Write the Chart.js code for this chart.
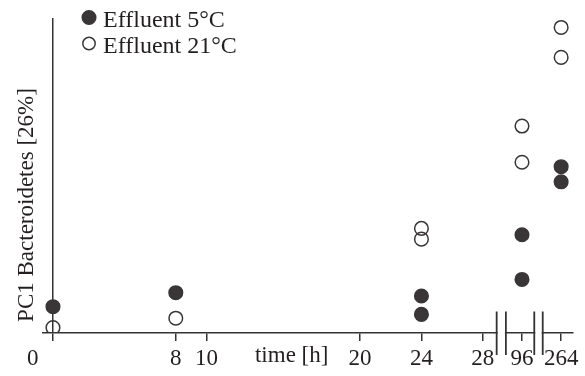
<!DOCTYPE html>
<html>
<head>
<meta charset="utf-8">
<script src="https://cdn.jsdelivr.net/npm/chart.js@4.4.0/dist/chart.umd.min.js"></script>
<style>
  html, body { margin: 0; padding: 0; background: #fff; }
</style>
</head>
<body>
<canvas id="chart" width="585" height="376"></canvas>
<script>
// PC1 scores over time for the two effluent temperatures
const sampleTimes5 = [0, 8, 24, 24, 96, 96, 264, 264];
const effluent5 = [8.35, 12.8, 11.75, 5.9, 31.2, 17.0, 52.8, 48.0];
const sampleTimes21 = [0, 8, 24, 24, 96, 96, 264, 264];
const effluent21 = [1.7, 4.7, 33.2, 29.8, 65.7, 54.2, 97.0, 87.5];
const tickHours = [0, 8, 10, 20, 24, 28, 96, 264];
const tickLabels = ['0', '8', '10', '20', '24', '28', '96', '264'];
const seriesNames = ['Effluent 5°C', 'Effluent 21°C'];
const axisTitleX = 'time [h]';
const axisTitleY = 'PC1 Bacteroidetes [26%]';

// Broken time axis: 0–28 h is linear, 96 h and 264 h sit on short compressed segments
const brokenAt = { 96: 30.55, 264: 33.1 };
function axisPos(h) { return h <= 28 ? h : brokenAt[h]; }
const axisBreaks = [[28.9, 29.5], [31.35, 31.9]];

const ink = '#333';
const dot = '#3a3637';
const textInk = '#231f20';
const serif = '"Liberation Serif", "Times New Roman", serif';

function toPoints(times, values) {
  return times.map((t, i) => ({ x: axisPos(t), y: values[i] }));
}

const decor = {
  id: 'decor',
  afterDraw(chart) {
    const c = chart.ctx;
    const xs = chart.scales.x;
    const area = chart.chartArea;
    c.save();

    // axis breaks: cut the baseline and draw the double bars
    axisBreaks.forEach(([a, b]) => {
      const x1 = xs.getPixelForValue(a);
      const x2 = xs.getPixelForValue(b);
      c.fillStyle = '#fff';
      c.fillRect(x1 + 1, area.bottom - 2, x2 - x1 - 2, 4);
      c.strokeStyle = ink;
      c.lineWidth = 1.8;
      [x1, x2].forEach(x => {
        c.beginPath();
        c.moveTo(x, area.bottom - 21.5);
        c.lineTo(x, area.bottom + 22);
        c.stroke();
      });
    });

    c.fillStyle = textInk;
    c.font = '23px ' + serif;
    c.textBaseline = 'alphabetic';

    // x-axis title, sitting among the tick labels
    c.textAlign = 'center';
    c.fillText(axisTitleX, xs.getPixelForValue(15.55), area.bottom + 29);

    // y-axis title
    c.save();
    c.translate(area.left - 10.5, 205);
    c.rotate(-Math.PI / 2);
    c.fillText(axisTitleY, 0, 0);
    c.restore();

    // legend
    c.font = '24px ' + serif;
    c.textAlign = 'left';
    chart.data.datasets.forEach((ds, i) => {
      const cy = 17.5 + i * 26;
      c.beginPath();
      c.arc(89, cy, i === 0 ? 6.8 : 6.2, 0, Math.PI * 2);
      c.fillStyle = ds.backgroundColor;
      c.fill();
      c.lineWidth = 1.5;
      c.strokeStyle = ds.borderColor;
      c.stroke();
      c.fillStyle = textInk;
      c.fillText(ds.label, 103, cy + 9.2);
    });

    c.restore();
  }
};

new Chart(document.getElementById('chart'), {
  type: 'scatter',
  data: {
    datasets: [
      {
        label: seriesNames[0],
        data: toPoints(sampleTimes5, effluent5),
        backgroundColor: dot,
        borderColor: dot,
        borderWidth: 1.5,
        pointRadius: 6.8,
        pointHoverRadius: 6.8
      },
      {
        label: seriesNames[1],
        data: toPoints(sampleTimes21, effluent21),
        backgroundColor: 'rgba(0,0,0,0)',
        borderColor: dot,
        borderWidth: 1.5,
        pointRadius: 6.8,
        pointHoverRadius: 6.8
      }
    ]
  },
  options: {
    responsive: false,
    animation: false,
    layout: { padding: { left: 43, right: 12.5, top: 18, bottom: 0 } },
    plugins: { legend: { display: false }, tooltip: { enabled: false } },
    scales: {
      x: {
        type: 'linear',
        min: -0.65,
        max: 33.84,
        afterBuildTicks: s => { s.ticks = tickHours.map(h => ({ value: axisPos(h) })); },
        afterFit: s => { s.height = 43; },
        ticks: {
          autoSkip: false,
          maxRotation: 0,
          padding: 4,
          color: textInk,
          font: { family: serif, size: 23 },
          // the 0 label sits left of its tick, clear of the vertical axis
          callback: (v, i) => i === 0 ? tickLabels[0] + '       ' : tickLabels[i]
        },
        grid: {
          drawOnChartArea: true,
          color: c => (c.tick && c.tick.value === 0) ? ink : 'rgba(0,0,0,0)',
          lineWidth: 1.5,
          tickColor: ink,
          tickWidth: 1.5,
          tickLength: 8
        },
        border: { display: true, color: ink, width: 1.5 }
      },
      y: { display: false, min: 0, max: 100 }
    }
  },
  plugins: [decor]
});
</script>
</body>
</html>
